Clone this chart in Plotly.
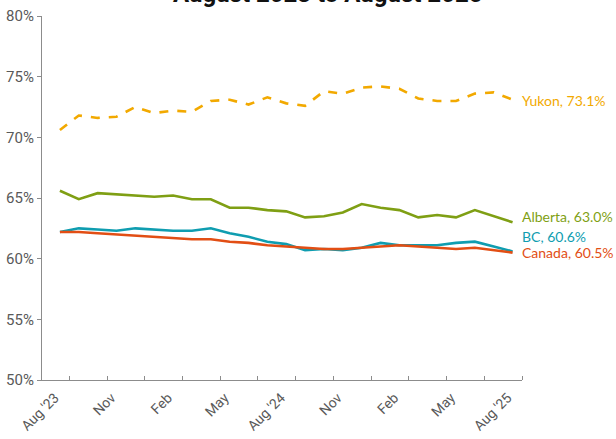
import plotly.graph_objects as go

months = [
    "Aug '23", "Sep", "Oct", "Nov", "Dec", "Jan", "Feb", "Mar", "Apr", "May", "Jun", "Jul",
    "Aug '24", "Sep", "Oct", "Nov", "Dec", "Jan", "Feb", "Mar", "Apr", "May", "Jun", "Jul",
    "Aug '25",
]
yukon = [70.6, 71.8, 71.6, 71.7, 72.5, 72.0, 72.2, 72.1, 73.0, 73.1, 72.7, 73.3, 72.8,
         72.6, 73.8, 73.6, 74.1, 74.2, 74.0, 73.2, 73.0, 73.0, 73.6, 73.7, 73.1]
alberta = [65.6, 64.9, 65.4, 65.3, 65.2, 65.1, 65.2, 64.9, 64.9, 64.2, 64.2, 64.0, 63.9,
           63.4, 63.5, 63.8, 64.5, 64.2, 64.0, 63.4, 63.6, 63.4, 64.0, 63.5, 63.0]
bc = [62.2, 62.5, 62.4, 62.3, 62.5, 62.4, 62.3, 62.3, 62.5, 62.1, 61.8, 61.4, 61.2,
      60.7, 60.8, 60.7, 60.9, 61.3, 61.1, 61.1, 61.1, 61.3, 61.4, 61.0, 60.6]
canada = [62.2, 62.2, 62.1, 62.0, 61.9, 61.8, 61.7, 61.6, 61.6, 61.4, 61.3, 61.1, 61.0,
          60.9, 60.8, 60.8, 60.9, 61.0, 61.1, 61.0, 60.9, 60.8, 60.9, 60.7, 60.5]

title = "August 2023 to August 2025"
y_ticks = [50, 55, 60, 65, 70, 75, 80]

x = list(range(len(months)))
label_every = 3

series = [
    # name, values, colour, dash, label shift (px)
    ("Yukon", yukon, "#F2A900", "dash", -1),
    ("Alberta", alberta, "#7F9F14", "solid", 6),
    ("BC", bc, "#0F9DB0", "solid", 15),
    ("Canada", canada, "#E24E14", "solid", 0),
]

fig = go.Figure()
for name, vals, color, dash, shift in series:
    fig.add_trace(go.Scatter(
        x=x, y=vals, name=name, mode="lines",
        line=dict(color=color, width=2.6, dash=dash),
        showlegend=False,
    ))
    fig.add_annotation(
        x=x[-1], y=vals[-1], text=f"{name}, {vals[-1]:.1f}%",
        showarrow=False, xanchor="left", yanchor="middle",
        xshift=7, yshift=shift,
        font=dict(family="Lato", size=14, color=color),
    )

# title sits mostly above the visible page, as in the reference
fig.add_annotation(
    x=0.5, y=1, xref="paper", yref="paper", text=f"<b>{title}</b>",
    showarrow=False, xanchor="center", yanchor="bottom", yshift=6, xshift=45,
    font=dict(family="Roboto", size=24, color="#111111"),
)

fig.update_layout(
    width=616, height=439,
    margin=dict(l=42, r=94, t=16, b=59),
    plot_bgcolor="white", paper_bgcolor="white",
    font=dict(family="Roboto", size=13, color="#595959"),
)
fig.update_xaxes(
    range=[-0.95, len(months) - 0.5],
    tickmode="array",
    tickvals=x[::label_every],
    ticktext=months[::label_every],
    tickangle=-45,
    ticks="",
    ticklabelshift=-5,
    ticklabelstandoff=3,
    showgrid=False, zeroline=False,
    showline=True, linecolor="#8C8C8C", linewidth=1.2,
    minor=dict(
        tickmode="array",
        tickvals=[i + 0.5 for i in x[::2]],
        ticks="inside", ticklen=4, tickcolor="#8C8C8C", tickwidth=1,
        showgrid=False,
    ),
    tickfont=dict(size=14, color="#595959"),
    automargin=False,
)
fig.update_yaxes(
    range=[50, 80],
    tickmode="array",
    tickvals=y_ticks,
    ticktext=[f"{v}%" for v in y_ticks],
    ticks="outside", ticklen=4, tickcolor="#8C8C8C",
    showgrid=False, zeroline=False,
    showline=True, linecolor="#8C8C8C", linewidth=1.2,
    tickfont=dict(size=15, color="#595959"),
    automargin=False,
)

fig.write_html(
    "out.html",
    config={"displayModeBar": False},
    post_script="document.body.style.margin='0';",
)
